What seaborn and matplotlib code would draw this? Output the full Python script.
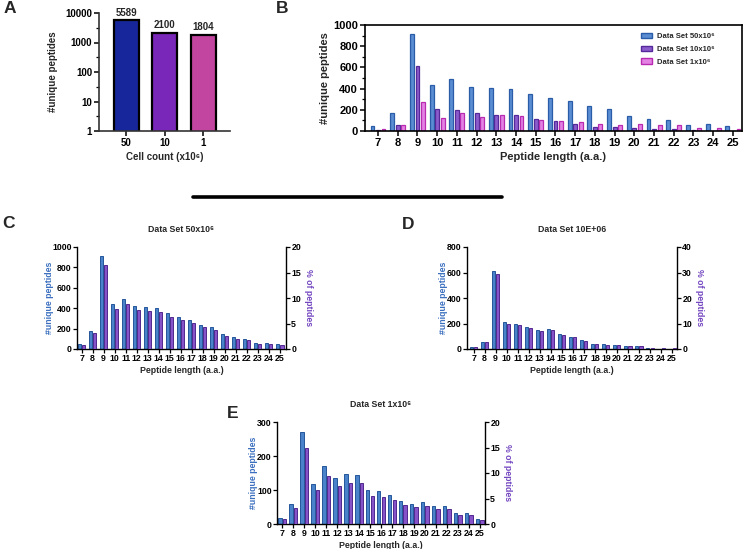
import numpy as np
import pandas as pd
import matplotlib
matplotlib.use('Agg')
import matplotlib.pyplot as plt
from matplotlib import ticker
from matplotlib.lines import Line2D
from matplotlib.patches import Patch
import seaborn as sns

# panel A: total unique peptides per cell count
cell_counts = ['50', '10', '1']
total_unique = [5589, 2100, 1804]

# panels B-E: peptides per length
peptide_lengths = [7, 8, 9, 10, 11, 12, 13, 14, 15, 16, 17, 18, 19, 20, 21, 22, 23, 24, 25]
counts_50 = [50, 173, 914, 438, 488, 419, 410, 400, 350, 312, 283, 240, 211, 145, 113, 101, 60, 63, 50]
counts_10 = [13, 57, 611, 211, 195, 173, 148, 154, 117, 95, 70, 42, 37, 29, 22, 22, 7, 3, 2]
counts_1 = [19, 58, 270, 119, 171, 134, 147, 143, 100, 96, 85, 67, 58, 64, 54, 52, 33, 31, 15]
pct_50 = [0.85, 3.1, 16.4, 7.9, 8.75, 7.6, 7.4, 7.2, 6.3, 5.6, 5.1, 4.25, 3.8, 2.55, 2.0, 1.83, 1.05, 1.05, 0.85]
pct_10 = [0.6, 2.7, 29.3, 10.0, 9.3, 8.2, 7.0, 7.3, 5.6, 4.6, 3.3, 1.8, 1.7, 1.4, 1.0, 1.0, 0.3, 0.2, 0.2]
pct_1 = [1.05, 3.2, 14.9, 6.6, 9.4, 7.4, 8.1, 8.0, 5.5, 5.3, 4.8, 3.7, 3.3, 3.5, 3.0, 2.9, 1.8, 1.8, 0.7]
set_labels = ['Data Set 50x10⁶', 'Data Set 10x10⁶', 'Data Set 1x10⁶']

sns.set_style('ticks')
plt.rcParams['font.family'] = ['Liberation Sans', 'DejaVu Sans']
plt.rcParams['font.weight'] = 'bold'
plt.rcParams['axes.labelweight'] = 'bold'
plt.rcParams['axes.titleweight'] = 'bold'
plt.rcParams['axes.edgecolor'] = 'black'
plt.rcParams['xtick.color'] = 'black'
plt.rcParams['ytick.color'] = 'black'

W, H = 743, 549
fig = plt.figure(figsize=(W / 100, H / 100), dpi=100)


def place(left, top, right, bottom):
    return fig.add_axes([left / W, 1 - bottom / H, (right - left) / W, (bottom - top) / H])


# ---- A ----
colors_a = ['#17279b', '#7827b8', '#c2469f']
df_a = pd.DataFrame({'cells': cell_counts, 'n': total_unique})
ax_a = place(99, 13, 230, 131)
sns.barplot(data=df_a, x='cells', y='n', hue='cells', palette=colors_a, legend=False, saturation=1,
            width=0.65, edgecolor='black', linewidth=1.6, ax=ax_a)
ax_a.set_yscale('log')
ax_a.set_ylim(1, 10000)
ax_a.set_xlim(-0.71, 2.69)
ax_a.yaxis.set_major_locator(ticker.LogLocator(base=10))
ax_a.yaxis.set_major_formatter(ticker.FuncFormatter(lambda v, p: f'{v:g}'))
ax_a.yaxis.set_minor_locator(ticker.LogLocator(base=10, subs=[10 ** 0.5]))
ax_a.yaxis.set_minor_formatter(ticker.NullFormatter())
for c in ax_a.containers:
    ax_a.bar_label(c, fmt='%d', padding=2, fontsize=7, fontweight='bold')
for s in ['top', 'right']:
    ax_a.spines[s].set_visible(False)
for s in ['left', 'bottom']:
    ax_a.spines[s].set_linewidth(1.2)
    ax_a.spines[s].set_color('#333333')
ax_a.tick_params(axis='both', labelsize=7, length=3.5, width=1.1, pad=1.5)
ax_a.tick_params(axis='y', which='minor', length=2, width=0.9)
ax_a.set_xlabel('Cell count (x10⁶)', fontsize=7, labelpad=3)
ax_a.set_ylabel('#unique peptides', fontsize=7, labelpad=5)

# ---- B ----
fill_b = ['#5a8dd2', '#8b5ccb', '#e382e3']
edge_b = ['#2a5ca8', '#56299a', '#b82ab0']
df_b = pd.DataFrame({
    'length': peptide_lengths * 3,
    'n': counts_50 + counts_10 + counts_1,
    'set': np.repeat(set_labels, len(peptide_lengths)),
})
ax_b = place(365, 25, 742, 131)
sns.barplot(data=df_b, x='length', y='n', hue='set', hue_order=set_labels, order=peptide_lengths,
            palette=fill_b, saturation=1, width=0.84, gap=0.3, linewidth=0.9, legend=False, ax=ax_b)
for c, ec in zip(ax_b.containers, edge_b):
    for p in c:
        p.set_edgecolor(ec)
ax_b.set_ylim(0, 1000)
ax_b.set_xlim(-0.66, 18.46)
ax_b.yaxis.set_major_locator(ticker.MultipleLocator(200))
ax_b.yaxis.set_minor_locator(ticker.MultipleLocator(100))
for s in ax_b.spines.values():
    s.set_linewidth(1.2)
ax_b.tick_params(axis='both', labelsize=8, length=3.5, width=1.1, pad=1.5)
ax_b.tick_params(axis='y', which='minor', length=2, width=0.9)
ax_b.set_xlabel('Peptide length (a.a.)', fontsize=8, labelpad=3)
ax_b.set_ylabel('#unique peptides', fontsize=8, labelpad=2)
handles = [Patch(facecolor=f, edgecolor=e, linewidth=1) for f, e in zip(fill_b, edge_b)]
ax_b.legend(handles, set_labels, loc='upper left', bbox_to_anchor=((641 - 365) / 377, 1 - (33 - 25) / 106),
            frameon=False, fontsize=5.5, handlelength=1.5, handleheight=0.7, handletextpad=0.6,
            labelspacing=0.7, borderpad=0, borderaxespad=0)

# horizontal separator
fig.add_artist(Line2D([192.7 / W, 501.7 / W], [1 - 196.5 / H, 1 - 196.5 / H], color='black', lw=2.6))

# ---- C, D, E ----
blue_fill, blue_edge = '#4a83c9', '#24569a'
purple_fill, purple_edge = '#8753c8', '#51298f'
label_blue, label_purple = '#3b6fbf', '#7245c0'


def dual_panel(box, counts, pct, title, cmax, cstep, pmax, pstep, xlim):
    ax = place(*box)
    df = pd.DataFrame({
        'length': peptide_lengths * 2,
        'value': counts + pct,
        'measure': ['count'] * len(counts) + ['pct'] * len(pct),
    })
    pal = {'count': blue_fill, 'pct': purple_fill}
    sns.barplot(data=df[df.measure == 'count'], x='length', y='value', hue='measure',
                hue_order=['count', 'pct'], order=peptide_lengths, palette=pal, dodge=True, saturation=1,
                width=0.74, gap=0.25, linewidth=0.7, edgecolor=blue_edge, legend=False, ax=ax)
    ax2 = ax.twinx()
    sns.barplot(data=df[df.measure == 'pct'], x='length', y='value', hue='measure',
                hue_order=['count', 'pct'], order=peptide_lengths, palette=pal, dodge=True, saturation=1,
                width=0.74, gap=0.25, linewidth=0.7, edgecolor=purple_edge, legend=False, ax=ax2)
    ax.set_ylim(0, cmax)
    ax2.set_ylim(0, pmax)
    ax.set_xlim(*xlim)
    ax2.set_xlim(*xlim)
    ax.yaxis.set_major_locator(ticker.MultipleLocator(cstep))
    ax2.yaxis.set_major_locator(ticker.MultipleLocator(pstep))
    ax.spines['top'].set_visible(False)
    ax.spines['right'].set_visible(False)
    ax2.spines['top'].set_visible(False)
    ax2.spines['left'].set_visible(False)
    ax2.spines['bottom'].set_visible(False)
    for s in ['left', 'bottom']:
        ax.spines[s].set_linewidth(1.0)
    ax2.spines['right'].set_linewidth(1.0)
    for a in (ax, ax2):
        a.tick_params(axis='both', labelsize=6.3, length=2.8, width=0.9, pad=1)
    ax.set_xlabel('Peptide length (a.a.)', fontsize=6.3, labelpad=2)
    ax.set_ylabel('#unique peptides', fontsize=6.3, color=label_blue, labelpad=-1)
    ax2.set_ylabel('% of peptides', fontsize=6.3, color=label_purple, rotation=270,
                   va='bottom', labelpad=2)
    ax.set_title(title, fontsize=6.3, pad=11)
    return ax


dual_panel((77, 247, 286, 349), counts_50, pct_50, 'Data Set 50x10⁶', 1000, 200, 20, 5, (-0.42, 18.55))
dual_panel((467, 247, 677, 349), counts_10, pct_10, 'Data Set 10E+06', 800, 200, 40, 10, (-0.6, 18.45))
dual_panel((277, 422, 485, 524), counts_1, pct_1, 'Data Set 1x10⁶', 300, 100, 20, 5, (-0.46, 18.46))

# panel letters
for letter, x, y in [('A', 4, 1), ('B', 276, 1), ('C', 2, 216), ('D', 402, 217), ('E', 227, 406)]:
    fig.text(x / W, 1 - y / H, letter, fontsize=12.5, fontweight='bold', va='top', ha='left')

fig.savefig('out.png', dpi=100)
